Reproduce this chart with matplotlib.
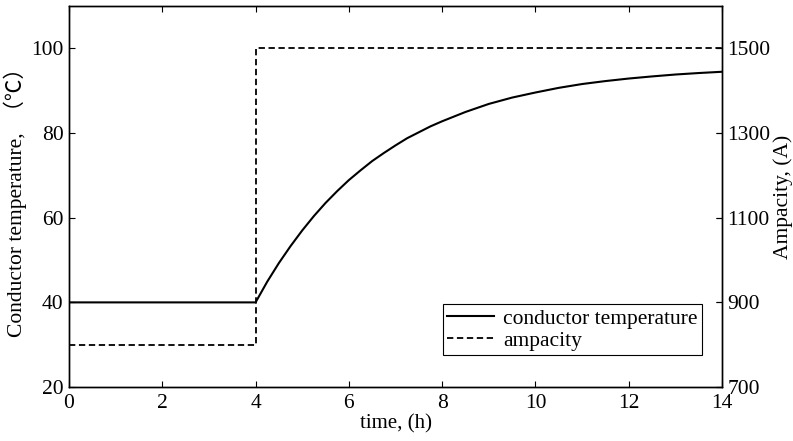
import matplotlib
matplotlib.use("Agg")
import matplotlib.pyplot as plt

plt.rcParams['font.family'] = ['Liberation Serif', 'Noto Sans CJK SC', 'DejaVu Sans']

# Conductor temperature (deg C)
temp_time = [0, 4, 4.25, 4.5, 4.75, 5, 5.25, 5.5, 5.75, 6, 6.25, 6.5, 6.75, 7,
             7.25, 7.5, 7.75, 8, 8.5, 9, 9.5, 10, 10.5, 11, 11.5, 12, 12.5,
             13, 13.5, 14]
temp_vals = [40, 40, 44.9, 49.3, 53.3, 57.0, 60.4, 63.5, 66.3, 68.9, 71.2,
             73.4, 75.3, 77.1, 78.8, 80.2, 81.6, 82.8, 85.0, 86.9, 88.4, 89.6,
             90.7, 91.6, 92.3, 92.9, 93.4, 93.85, 94.2, 94.5]

# Ampacity (A), step change at 4 h
amp_time = [0, 4, 4, 14]
amp_vals = [800, 800, 1500, 1500]

x_ticks = [0, 2, 4, 6, 8, 10, 12, 14]
left_ticks = [20, 40, 60, 80, 100]
right_ticks = [700, 900, 1100, 1300, 1500]

fig = plt.figure(figsize=(7.93, 4.41), dpi=100)
ax = fig.add_axes([0.087, 0.1224, 0.8235, 0.8636])
ax2 = ax.twinx()

l1, = ax.plot(temp_time, temp_vals, color='black', lw=1.5, label='conductor temperature')
l2, = ax2.plot(amp_time, amp_vals, color='black', lw=1.3, ls=(0, (3.5, 2)), label='ampacity')

ax.set_xlim(0, 14)
ax.set_ylim(20, 110)
ax2.set_ylim(700, 1600)
ax.set_xticks(x_ticks)
ax.set_yticks(left_ticks)
ax2.set_yticks(right_ticks)

ax.tick_params(axis='both', direction='in', length=4.5, width=0.8, labelsize=15.5,
               top=True, right=True, labelright=False, pad=4)
ax.tick_params(axis='x', pad=5)
ax2.tick_params(axis='y', direction='in', length=4.5, width=0.8, labelsize=15.5, pad=4)

for a in (ax, ax2):
    for s in a.spines.values():
        s.set_linewidth(1.0)

ax.set_xlabel('time, (h)', fontsize=15, labelpad=1)
ax.set_ylabel('Conductor temperature,  \uff08\u2103\uff09', fontsize=15.5, labelpad=3)
ax2.set_ylabel('Ampacity, (A)', fontsize=15.5, labelpad=2)

leg = ax2.legend([l1, l2], ['conductor temperature', 'ampacity'], loc='lower right',
                 bbox_to_anchor=(0.969, 0.084), fontsize=15.5, frameon=True, fancybox=False,
                 edgecolor='black', framealpha=1, handlelength=2.2, handletextpad=0.4,
                 borderpad=0.2, labelspacing=0.1, borderaxespad=0)
leg.get_frame().set_linewidth(0.8)

fig.savefig('out.png', dpi=100)
